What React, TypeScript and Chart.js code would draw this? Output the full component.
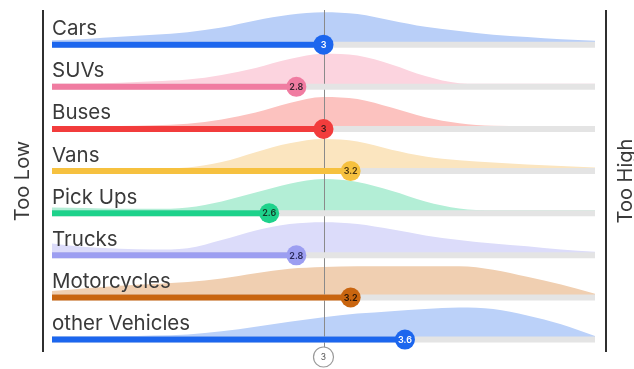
import { useEffect, useRef } from "react";
import { Chart, registerables } from "chart.js";

Chart.register(...registerables);

// Vehicle categories, one row each, top to bottom
const vehicles = ["Cars", "SUVs", "Buses", "Vans", "Pick Ups", "Trucks", "Motorcycles", "other Vehicles"];

// Average rating of each vehicle type (scale 1–5)
const scores = [3, 2.8, 3, 3.2, 2.6, 2.8, 3.2, 3.6];

// Rating positions at which the answer distributions are sampled
const ratingSteps = [1, 1.25, 1.5, 1.75, 2, 2.25, 2.5, 2.75, 3, 3.25, 3.5, 3.75, 4, 4.25, 4.5, 4.75, 5];

// Answer distribution per vehicle type (relative share of answers)
const carsShare = [4, 8, 14, 20, 27, 40, 60, 76, 83, 78, 60, 42, 30, 20, 13, 7, 3];
const suvsShare = [0, 1, 3, 7, 12, 25, 45, 70, 85, 80, 55, 22, 2, 0, 0, 0, 0];
const busesShare = [0, 0, 0, 2, 6, 18, 38, 65, 82, 76, 52, 25, 8, 1, 0, 0, 0];
const vansShare = [0, 0, 0, 0, 2, 17, 45, 70, 82, 75, 52, 33, 22, 16, 10, 6, 2];
const pickUpsShare = [8, 6, 4, 4, 8, 25, 50, 75, 88, 80, 55, 25, 5, 0, 0, 0, 0];
const trucksShare = [25, 15, 10, 8, 12, 35, 62, 80, 85, 80, 65, 48, 35, 25, 17, 8, 2];
const motorcyclesShare = [10, 18, 25, 30, 35, 45, 60, 73, 78, 80, 80, 80, 80, 70, 50, 28, 2];
const otherVehiclesShare = [0, 0, 1, 3, 6, 15, 28, 42, 55, 65, 72, 78, 82, 78, 60, 35, 2];

const shares = [carsShare, suvsShare, busesShare, vansShare, pickUpsShare, trucksShare, motorcyclesShare, otherVehiclesShare];

// Scale ends and the reference mark on the rating axis
const ratingMin = 1;
const ratingMax = 5;
const referenceTicks = [3];
const sideLabels = ["Too Low", "Too High"];

// Colours
const barColors = ["#1c66ee", "#f07ca1", "#f23c3c", "#f6c13f", "#1ed28b", "#9c9ef1", "#c9650f", "#1c66ee"];
const areaColors = ["#b9cff8", "#fcd4df", "#fcc2bf", "#fbe5bf", "#b3eed6", "#dcdcfa", "#f0cfb1", "#bbd1f9"];
const markerTextColors = ["#ffffff", "#3a2530", "#3a1a1a", "#4a3510", "#123a28", "#2a2a5a", "#2a1505", "#ffffff"];

const ROW = 119; // y units between rows
const BAR_HALF = 8.4; // half bar thickness in y units
const FONT = "Inter, 'Noto Sans', sans-serif";

export default function App() {
  const canvasRef = useRef<HTMLCanvasElement | null>(null);

  useEffect(() => {
    const canvas = canvasRef.current;
    if (!canvas) return;

    const datasets: any[] = [];
    let firstTrackDrawn = -1;

    vehicles.forEach((name, i) => {
      const base = i * ROW;
      // distribution area
      datasets.push({
        label: name + " distribution",
        data: ratingSteps.map((x, k) => ({ x, y: base - BAR_HALF - shares[i][k] })),
        fill: { value: base },
        backgroundColor: areaColors[i],
        borderWidth: 0,
        pointRadius: 0,
        cubicInterpolationMode: "monotone",
        order: 5,
      });
    });

    vehicles.forEach((name, i) => {
      const base = i * ROW;
      // grey track over the full scale
      datasets.push({
        label: name + " track",
        data: [
          { x: ratingMin, y: base },
          { x: ratingMax, y: base },
        ],
        borderColor: "#e4e4e4",
        borderWidth: 6,
        borderCapStyle: "butt",
        pointRadius: 0,
        fill: false,
        order: 4,
      });
      firstTrackDrawn = datasets.length - 1;
    });

    vehicles.forEach((name, i) => {
      const base = i * ROW;
      // coloured bar up to the score
      datasets.push({
        label: name + " score bar",
        data: [
          { x: ratingMin, y: base },
          { x: scores[i], y: base },
        ],
        borderColor: barColors[i],
        borderWidth: 6,
        borderCapStyle: "butt",
        pointRadius: 0,
        fill: false,
        order: 3,
      });
    });

    vehicles.forEach((name, i) => {
      const base = i * ROW;
      // score marker
      datasets.push({
        label: name,
        data: [{ x: scores[i], y: base }],
        showLine: false,
        pointRadius: 10,
        pointHoverRadius: 10,
        pointBackgroundColor: barColors[i],
        pointBorderWidth: 0,
        fill: false,
        order: 1,
      });
    });

    const overlay = {
      id: "overlay",
      beforeDatasetDraw(chart: any, args: any) {
        if (args.index !== firstTrackDrawn) return;
        const { ctx, chartArea, scales } = chart;
        const x = scales.x.getPixelForValue(referenceTicks[0]);
        ctx.save();
        ctx.strokeStyle = "#8a8a8a";
        ctx.lineWidth = 1;
        ctx.beginPath();
        ctx.moveTo(Math.round(x) + 0.5, chartArea.top);
        ctx.lineTo(Math.round(x) + 0.5, chartArea.bottom - 5);
        ctx.stroke();
        ctx.restore();
      },
      afterDatasetsDraw(chart: any) {
        const { ctx, chartArea, scales } = chart;
        const xs = scales.x;
        const ys = scales.y;
        ctx.save();

        // row labels
        ctx.fillStyle = "#3a3a3a";
        ctx.font = `20.5px ${FONT}`;
        ctx.textAlign = "left";
        ctx.textBaseline = "alphabetic";
        vehicles.forEach((name, i) => {
          ctx.fillText(name, xs.getPixelForValue(ratingMin), ys.getPixelForValue(i * ROW) - 9.5);
        });

        // marker values
        ctx.font = `600 9px ${FONT}`;
        ctx.textAlign = "center";
        ctx.textBaseline = "middle";
        scores.forEach((s, i) => {
          ctx.fillStyle = markerTextColors[i];
          ctx.fillText(String(s), xs.getPixelForValue(s), ys.getPixelForValue(i * ROW) + 0.5);
        });

        // side borders
        ctx.strokeStyle = "#2f2f2f";
        ctx.lineWidth = 2;
        ctx.beginPath();
        ctx.moveTo(chartArea.left, chartArea.top);
        ctx.lineTo(chartArea.left, chartArea.bottom);
        ctx.moveTo(chartArea.right, chartArea.top);
        ctx.lineTo(chartArea.right, chartArea.bottom);
        ctx.stroke();

        // side labels
        ctx.fillStyle = "#3a3a3a";
        ctx.font = `20px ${FONT}`;
        ctx.textAlign = "center";
        ctx.textBaseline = "alphabetic";
        const midY = (chartArea.top + chartArea.bottom) / 2;
        [
          [chartArea.left - 14, sideLabels[0]],
          [chartArea.right + 26, sideLabels[1]],
        ].forEach(([x, t]) => {
          ctx.save();
          ctx.translate(x as number, midY);
          ctx.rotate(-Math.PI / 2);
          ctx.fillText(t as string, 0, 0);
          ctx.restore();
        });

        // reference tick badge
        referenceTicks.forEach((t) => {
          const x = xs.getPixelForValue(t);
          const y = chartArea.bottom + 5;
          ctx.beginPath();
          ctx.arc(x, y, 10, 0, Math.PI * 2);
          ctx.fillStyle = "#ffffff";
          ctx.fill();
          ctx.strokeStyle = "#9a9a9a";
          ctx.lineWidth = 1.2;
          ctx.stroke();
          ctx.fillStyle = "#555555";
          ctx.font = `8.5px ${FONT}`;
          ctx.textAlign = "center";
          ctx.textBaseline = "middle";
          ctx.fillText(String(t), x, y + 0.5);
        });

        ctx.restore();
      },
    };

    const chart = new Chart(canvas, {
      type: "line",
      data: { datasets },
      options: {
        responsive: false,
        animation: false,
        layout: { padding: { left: 43, right: 28, top: 7, bottom: 17 } },
        plugins: {
          legend: { display: false },
          tooltip: { enabled: false },
        },
        scales: {
          x: {
            type: "linear",
            display: false,
            min: ratingMin - 9 / 135.75,
            max: ratingMax + 11 / 135.75,
          },
          y: {
            type: "linear",
            display: false,
            reverse: true,
            min: -98,
            max: 868,
          },
        },
      },
      plugins: [overlay],
    });

    return () => chart.destroy();
  }, []);

  return (
    <div style={{ position: "absolute", left: 0, top: 0, width: 634, height: 369, background: "#ffffff" }}>
      <canvas ref={canvasRef} width={634} height={369} />
    </div>
  );
}
